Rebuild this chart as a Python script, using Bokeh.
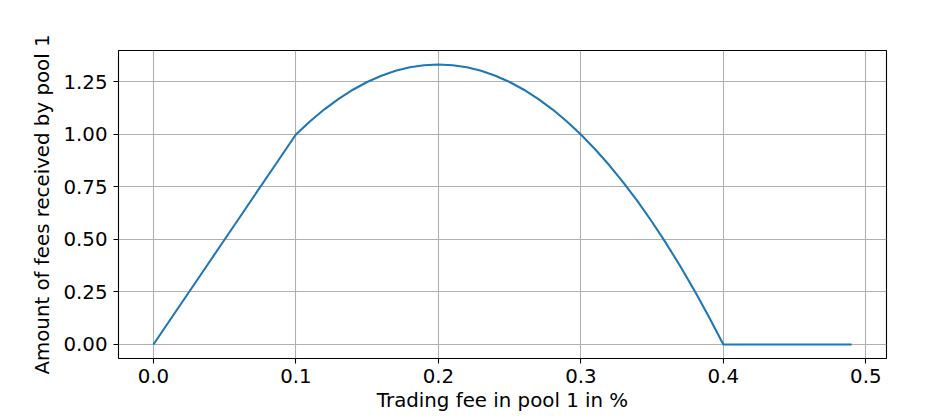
from bokeh.plotting import figure
from bokeh.models import Range1d, FixedTicker, PrintfTickFormatter
from bokeh.embed import file_html
from bokeh.resources import INLINE

# Trading fee in pool 1 (%)
fee = [0.00, 0.01, 0.02, 0.03, 0.04, 0.05, 0.06, 0.07, 0.08, 0.09,
       0.10, 0.11, 0.12, 0.13, 0.14, 0.15, 0.16, 0.17, 0.18, 0.19,
       0.20, 0.21, 0.22, 0.23, 0.24, 0.25, 0.26, 0.27, 0.28, 0.29,
       0.30, 0.31, 0.32, 0.33, 0.34, 0.35, 0.36, 0.37, 0.38, 0.39,
       0.40, 0.41, 0.42, 0.43, 0.44, 0.45, 0.46, 0.47, 0.48, 0.49]
# Amount of fees received by pool 1
received = [0.0, 0.1, 0.2, 0.3, 0.4, 0.5, 0.6, 0.7, 0.8, 0.9,
            1.0, 1.0633, 1.12, 1.17, 1.2133, 1.25, 1.28, 1.3033, 1.32, 1.33,
            1.3333, 1.33, 1.32, 1.3033, 1.28, 1.25, 1.2133, 1.17, 1.12, 1.0633,
            1.0, 0.93, 0.8533, 0.77, 0.68, 0.5833, 0.48, 0.37, 0.2533, 0.13,
            0.0, 0.0, 0.0, 0.0, 0.0, 0.0, 0.0, 0.0, 0.0, 0.0]

x_ticks = [0.0, 0.1, 0.2, 0.3, 0.4, 0.5]
y_ticks = [0.0, 0.25, 0.5, 0.75, 1.0, 1.25]

FONT = "DejaVu Sans"
FS = "19.8px"

p = figure(width=931, height=418, output_backend="svg", toolbar_location=None,
           x_range=Range1d(-0.0245, 0.5145), y_range=Range1d(-0.0667, 1.4),
           min_border_left=118, min_border_right=45, min_border_top=50, min_border_bottom=60)

p.line(fee, received, line_color="#1f77b4", line_width=2.1)

p.outline_line_color = "black"
p.outline_line_width = 1.1
p.background_fill_color = "white"
p.border_fill_color = "white"

for g in (p.xgrid[0], p.ygrid[0]):
    g.grid_line_color = "#b0b0b0"
    g.grid_line_width = 1.1

p.xaxis.ticker = FixedTicker(ticks=x_ticks)
p.yaxis.ticker = FixedTicker(ticks=y_ticks)
p.xgrid.ticker = FixedTicker(ticks=x_ticks)
p.ygrid.ticker = FixedTicker(ticks=y_ticks)
p.xaxis.formatter = PrintfTickFormatter(format="%.1f")
p.yaxis.formatter = PrintfTickFormatter(format="%.2f")

p.xaxis.axis_label = "Trading fee in pool 1 in %"
p.yaxis.axis_label = "Amount of fees received by pool 1"

for ax in (p.xaxis[0], p.yaxis[0]):
    ax.axis_line_color = None
    ax.major_tick_in = 0
    ax.major_tick_out = 5
    ax.major_tick_line_color = "black"
    ax.major_tick_line_width = 1.1
    ax.minor_tick_line_color = None
    ax.major_label_text_font = FONT
    ax.major_label_text_font_size = FS
    ax.major_label_text_color = "black"
    ax.axis_label_text_font = FONT
    ax.axis_label_text_font_size = FS
    ax.axis_label_text_font_style = "normal"
    ax.axis_label_text_color = "black"

p.xaxis.major_label_standoff = 5
p.xaxis.axis_label_standoff = 3
p.yaxis.major_label_standoff = 6
p.yaxis.axis_label_standoff = 6

open("out.html", "w").write(file_html(p, INLINE))
